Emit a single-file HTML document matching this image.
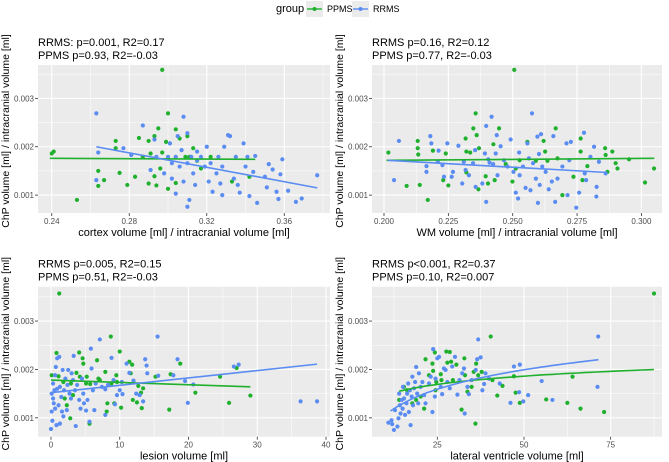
<!DOCTYPE html>
<html><head><meta charset="utf-8"><style>
body{margin:0;background:#fff;}
svg{display:block;font-family:"Liberation Sans",sans-serif;}
</style></head><body>
<svg id="chart" width="669" height="462"></svg>
<script>
// ===== Data =====
// Panel 1: cortex
const p1GreenX=[0.240,0.241,0.253,0.264,0.264,0.267,0.273,0.273,0.275,0.279,0.283,0.285,0.287,0.290,0.290,0.293,0.293,0.295,0.294,0.291,0.296,0.297,0.297,0.299,0.300,0.300,0.304,0.304,0.306,0.309,0.310,0.311,0.313,0.315,0.317,0.322,0.333,0.342];
const p1GreenY=[0.00186,0.00190,0.00090,0.00150,0.00119,0.00131,0.00212,0.00197,0.00146,0.00121,0.00138,0.00218,0.00179,0.00212,0.00124,0.00222,0.00139,0.00238,0.00120,0.00186,0.00155,0.00188,0.00359,0.00210,0.00113,0.00269,0.00236,0.00125,0.00217,0.00179,0.00222,0.00179,0.00197,0.00171,0.00155,0.00179,0.00128,0.00138];
const p1BlueX=[0.263,0.263,0.264,0.277,0.281,0.287,0.291,0.293,0.294,0.298,0.300,0.301,0.302,0.302,0.304,0.304,0.305,0.306,0.307,0.308,0.308,0.310,0.310,0.310,0.311,0.312,0.313,0.314,0.315,0.315,0.317,0.319,0.320,0.321,0.322,0.323,0.325,0.326,0.327,0.328,0.328,0.329,0.331,0.332,0.334,0.335,0.336,0.337,0.339,0.340,0.341,0.342,0.344,0.345,0.346,0.350,0.352,0.351,0.354,0.356,0.357,0.359,0.358,0.362,0.366,0.369,0.377];
const p1BlueY=[0.00269,0.00131,0.00188,0.00197,0.00183,0.00244,0.00152,0.00215,0.00179,0.00145,0.00179,0.00207,0.00166,0.00134,0.00179,0.00103,0.00222,0.00159,0.00193,0.00262,0.00128,0.00166,0.00076,0.00228,0.00090,0.00179,0.00145,0.00121,0.00190,0.00172,0.00179,0.00159,0.00200,0.00128,0.00166,0.00107,0.00145,0.00179,0.00124,0.00100,0.00159,0.00200,0.00224,0.00222,0.00134,0.00179,0.00121,0.00105,0.00207,0.00159,0.00179,0.00098,0.00148,0.00181,0.00084,0.00138,0.00164,0.00116,0.00153,0.00107,0.00092,0.00174,0.00143,0.00109,0.00086,0.00093,0.00141];
const p1BlueFitX=[0.263,0.377], p1BlueFitY=[0.00200,0.00115];
const p1GreenFitX=[0.239,0.345], p1GreenFitY=[0.00176,0.00174];

// Panel 2: WM
const p2GreenX=[0.2017,0.2088,0.2131,0.2131,0.2133,0.2139,0.217,0.219,0.223,0.224,0.225,0.2317,0.232,0.232,0.2335,0.2347,0.2356,0.236,0.2367,0.2369,0.2395,0.2404,0.2425,0.243,0.2447,0.2473,0.2499,0.2506,0.2512,0.2527,0.2557,0.259,0.262,0.2626,0.2635,0.2667,0.2674,0.2693,0.2736,0.2764,0.2764,0.2771,0.279,0.2859,0.2861,0.2868,0.2887,0.29,0.2907,0.2952,0.3014,0.3049];
const p2GreenY=[0.00188,0.00119,0.00212,0.00197,0.00184,0.00121,0.0009,0.00192,0.00131,0.00186,0.0012,0.00217,0.0019,0.00147,0.00188,0.00238,0.00269,0.00224,0.00112,0.00197,0.00139,0.00124,0.00205,0.00131,0.00238,0.00164,0.00128,0.00359,0.00155,0.00172,0.0021,0.00171,0.00212,0.0019,0.00171,0.00238,0.00176,0.001,0.00138,0.00217,0.0019,0.00131,0.0016,0.00197,0.00183,0.00148,0.0019,0.00166,0.00155,0.00174,0.00126,0.00155];
const p2BlueX=[0.2039,0.2058,0.2165,0.2165,0.218,0.2184,0.2209,0.2212,0.2227,0.2233,0.2246,0.2263,0.2268,0.2289,0.2304,0.231,0.2317,0.233,0.2346,0.2354,0.2356,0.2382,0.2392,0.2397,0.2397,0.2405,0.241,0.2418,0.2424,0.2434,0.2438,0.2441,0.2453,0.2466,0.248,0.2492,0.2503,0.2512,0.2521,0.2525,0.2527,0.254,0.255,0.2557,0.2563,0.2569,0.2575,0.2579,0.259,0.2596,0.2598,0.2602,0.2605,0.261,0.2615,0.2628,0.264,0.2652,0.2658,0.2665,0.2674,0.2693,0.2709,0.2713,0.272,0.2726,0.2747,0.2758,0.2777,0.278,0.2785,0.2802,0.2816,0.2825,0.2826,0.2835,0.2861];
const p2BlueY=[0.00131,0.00212,0.0016,0.00148,0.00222,0.00207,0.00169,0.00192,0.00162,0.00138,0.00207,0.00138,0.00148,0.00202,0.00124,0.00169,0.00152,0.00141,0.00166,0.00193,0.00117,0.00124,0.00186,0.00243,0.00086,0.00174,0.00167,0.00262,0.00164,0.00186,0.00224,0.00141,0.00201,0.00172,0.00159,0.00215,0.00148,0.00105,0.00093,0.00188,0.00141,0.00159,0.00115,0.00207,0.00176,0.0011,0.00269,0.00166,0.00134,0.00221,0.00084,0.00185,0.00121,0.00226,0.00159,0.00148,0.00112,0.00128,0.00222,0.00086,0.00134,0.00159,0.00207,0.001,0.00172,0.0021,0.00074,0.00105,0.00229,0.00145,0.00131,0.00179,0.002,0.00097,0.00117,0.00169,0.00145];
const p2BlueFitX=[0.2015,0.286], p2BlueFitY=[0.00172,0.00147];
const p2GreenFitX=[0.201,0.305], p2GreenFitY=[0.00172,0.00176];

// Panel 3: lesion
const p3GreenX=[0.1,0.8,1.2,1.1,1.8,2.0,2.3,2.8,2.9,3.2,3.7,4.1,4.2,4.6,4.7,5.1,5.2,5.6,5.7,6.7,6.9,7.1,7.9,8.1,8.2,8.7,8.8,9.2,9.5,9.6,10,10.2,11.4,11.6,11.8,11.9,12.5,12.7,13.1,13.2,13.4,15.2,17.2,17.4,18.8,21.0,24.6,25.9,27.0,29.0];
const p3GreenY=[0.00188,0.00234,0.00357,0.00186,0.00174,0.0014,0.00126,0.00099,0.00171,0.00147,0.00193,0.00235,0.00185,0.00223,0.00212,0.00171,0.00185,0.00088,0.0017,0.00219,0.00181,0.00178,0.00195,0.00113,0.0013,0.00268,0.00171,0.0013,0.00188,0.00174,0.00237,0.00121,0.00216,0.00192,0.0021,0.00137,0.00132,0.00166,0.00152,0.0012,0.00161,0.00185,0.00117,0.0019,0.00212,0.00152,0.00185,0.00131,0.00203,0.00146];
const p3BlueX=[0,0.1,0.1,0.2,0.3,0.3,0.4,0.5,0.6,0.6,0.7,0.8,0.9,0.9,1.1,1.2,1.3,1.3,1.5,1.6,1.7,1.8,1.9,2.1,2.3,2.4,2.5,2.7,2.9,3.0,3.2,3.3,3.5,3.6,3.8,4.1,4.3,4.5,4.7,4.8,5.1,5.3,5.6,5.8,5.9,6.1,6.3,6.5,7.1,7.4,7.9,7.9,8.3,8.8,9.1,9.3,9.6,10,10.3,10.4,11,11.4,12,12.4,12.9,13.4,13.7,13.9,14,15.5,15.6,17.8,18.4,19.5,19.9,20.7,26.6,27.3,36.3,38.7];
const p3BlueY=[0.00077,0.00113,0.0015,0.00094,0.0014,0.00171,0.0013,0.00157,0.00119,0.00188,0.00205,0.00085,0.00223,0.0016,0.00126,0.00226,0.00088,0.00164,0.00143,0.00113,0.00199,0.00103,0.00157,0.00181,0.00116,0.00168,0.00199,0.0015,0.0014,0.00192,0.00178,0.00228,0.00157,0.00083,0.00168,0.00137,0.00119,0.00181,0.0015,0.0013,0.00115,0.00137,0.00092,0.00243,0.00202,0.00157,0.00116,0.00171,0.00262,0.00164,0.00159,0.00106,0.00168,0.00224,0.00178,0.00128,0.00147,0.00157,0.00174,0.00149,0.00212,0.00193,0.00177,0.0015,0.00147,0.00134,0.00221,0.00208,0.00192,0.00268,0.00187,0.00188,0.00221,0.00176,0.00131,0.00169,0.00206,0.0021,0.00134,0.00134];
const p3BlueFitX=[0,38.7], p3BlueFitY=[0.00152,0.00211];
const p3GreenFitX=[0,29], p3GreenFitY=[0.00178,0.00164];

// Panel 4: lateral ventricle
const p4GreenX=[14,15.4,16.3,17.8,18.9,20.2,21.2,21.6,22.6,23.6,23.8,24.3,24.5,24.7,26,26.2,27.6,27.9,28.6,29,29.5,30.5,32,32.8,33,33.7,34.9,35.5,36,36.2,36.8,37.8,40.4,40.9,42.3,43.8,47.1,47.6,48.8,56.4,62.5,64,66.3,73.1,87.5];
const p4GreenY=[0.00137,0.00164,0.00157,0.0013,0.00137,0.00144,0.00119,0.00221,0.00188,0.00212,0.00197,0.00235,0.00157,0.00174,0.0019,0.00178,0.00237,0.00214,0.00236,0.00216,0.00178,0.0021,0.00117,0.00223,0.00188,0.00154,0.00164,0.00195,0.00088,0.00212,0.00188,0.00195,0.00268,0.00178,0.00146,0.00166,0.00186,0.00152,0.00131,0.00138,0.00131,0.00185,0.00119,0.00112,0.00357];
const p4BlueX=[10.9,11.8,12,12.5,12.8,13.5,13.8,14,14.2,14.4,14.7,15,15.1,15.4,15.7,16.1,16.3,16.6,16.8,17.1,17.3,17.6,17.8,18,18.3,18.6,18.9,19.2,19.5,19.7,20.2,20.7,21.2,21.6,22.6,23.1,23.6,23.8,24.3,24.5,25,25.5,26,26.4,26.9,27.4,27.9,28.6,29.3,30.1,30.8,31.4,32.2,32.7,32.9,33.7,34.1,34.9,36.1,36.5,36.8,37.5,38,38.5,38.9,39.9,43,46.1,47.1,48.6,48.8,49.8,51.2,55.1,58.2,71.2,71.4];
const p4BlueY=[0.0009,0.00095,0.00087,0.00075,0.00116,0.00082,0.00099,0.0015,0.00126,0.00109,0.00137,0.00119,0.00164,0.0014,0.00106,0.0013,0.0015,0.00171,0.00112,0.00157,0.00085,0.00144,0.00185,0.00126,0.00161,0.00174,0.00205,0.0015,0.0013,0.00192,0.00164,0.00174,0.00147,0.0013,0.00171,0.00185,0.00112,0.00242,0.00144,0.00181,0.00223,0.00226,0.00164,0.00149,0.00202,0.00199,0.00174,0.00161,0.00206,0.00226,0.00148,0.00178,0.00192,0.00202,0.00109,0.00164,0.00149,0.00178,0.00199,0.00221,0.00262,0.00225,0.00157,0.0017,0.00192,0.00181,0.00171,0.00131,0.00206,0.00153,0.0021,0.00134,0.00147,0.00176,0.00137,0.00164,0.00268];
// log fits: y = a + b*ln(x)
const p4BlueFit=[-0.000276,0.00058], p4BlueFitRange=[11.5,71.5];
const p4GreenFit=[0.000903,0.000245], p4GreenFitRange=[14,87.5];

const xTicks1=[0.24,0.28,0.32,0.36], xTickLabels1=["0.24","0.28","0.32","0.36"];
const xTicks2=[0.200,0.225,0.250,0.275,0.300], xTickLabels2=["0.200","0.225","0.250","0.275","0.300"];
const xTicks3=[0,10,20,30,40], xTickLabels3=["0","10","20","30","40"];
const xTicks4=[25,50,75], xTickLabels4=["25","50","75"];
const yTicks=[0.001,0.002,0.003], yTickLabels=["0.001","0.002","0.003"];

// ===== Rendering =====
const NS="http://www.w3.org/2000/svg";
const svg=document.getElementById('chart');
const GREEN="#1fb02d", BLUE="#5a8cf2";
function el(tag,attrs,parent){const e=document.createElementNS(NS,tag);for(const k in attrs)e.setAttribute(k,attrs[k]);(parent||svg).appendChild(e);return e;}
function txt(s,attrs,parent){const t=el('text',attrs,parent);t.textContent=s;return t;}

function panel(cfg){
  const g=el('g',{});
  
  
  const L=cfg.px[0],R=cfg.px[1],T=cfg.py[0],B=cfg.py[1];
  const sx=v=>L+(v-cfg.xd[0])/(cfg.xd[1]-cfg.xd[0])*(R-L);
  const sy=v=>B-(v-cfg.yd[0])/(cfg.yd[1]-cfg.yd[0])*(B-T);
  const bg=el('rect',{x:L,y:T,width:R-L,height:B-T,fill:"#ebebeb"},g);
  
  
  const xt=cfg.xt;const step=xt[1]-xt[0];
  for(let v=xt[0]-step/2;v<=cfg.xd[1];v+=step){if(v>=cfg.xd[0])el('line',{x1:sx(v),x2:sx(v),y1:T,y2:B,stroke:"#fff","stroke-width":0.5},g);}
  for(let v=0.0005;v<=cfg.yd[1];v+=0.001){if(v>=cfg.yd[0])el('line',{x1:L,x2:R,y1:sy(v),y2:sy(v),stroke:"#fff","stroke-width":0.5},g);}
  xt.forEach((v,i)=>{
    el('line',{x1:sx(v),x2:sx(v),y1:T,y2:B,stroke:"#fff","stroke-width":1.1},g);
    el('line',{x1:sx(v),x2:sx(v),y1:B,y2:B+3,stroke:"#333","stroke-width":0.8},g);
    const t=txt(cfg.xl[i],{x:sx(v),y:B+11,"font-size":8,fill:"#4d4d4d","text-anchor":"middle"},g);
    
    
  });
  yTicks.forEach((v,i)=>{
    el('line',{x1:L,x2:R,y1:sy(v),y2:sy(v),stroke:"#fff","stroke-width":1.1},g);
    el('line',{x1:L-3,x2:L,y1:sy(v),y2:sy(v),stroke:"#333","stroke-width":0.8},g);
    const t=txt(yTickLabels[i],{x:L-4,y:sy(v)+3,"font-size":8,fill:"#4d4d4d","text-anchor":"end"},g);
    
    
  });
  [[cfg.gx,cfg.gy,GREEN,'ppms-point'],[cfg.bx,cfg.by,BLUE,'rrms-point']].forEach(s=>{
    s[0].forEach((x,i)=>{
      const c=el('circle',{cx:sx(x),cy:sy(s[1][i]),r:2.1,fill:s[2]},g);
      
      
    });
  });
  cfg.fits.forEach(f=>{
    let d="";
    if(f.log){for(let k=0;k<=40;k++){const x=f.r[0]+(f.r[1]-f.r[0])*k/40;const y=f.c[0]+f.c[1]*Math.log(x);d+=(k?"L":"M")+sx(x).toFixed(1)+","+sy(y).toFixed(1);}}
    else d="M"+sx(f.x[0])+","+sy(f.y[0])+"L"+sx(f.x[1])+","+sy(f.y[1]);
    const p=el('path',{d:d,stroke:f.col,"stroke-width":1.6,fill:"none"},g);
    
    
  });
  const t1=txt(cfg.t1,{x:L,y:T-19,"font-size":11,fill:"#000"},g);
  
  
  const t2=txt(cfg.t2,{x:L,y:T-6,"font-size":11,fill:"#000"},g);
  
  
  const xa=txt(cfg.xtitle,{x:(L+R)/2,y:B+23,"font-size":11,fill:"#000","text-anchor":"middle"},g);
  
  
  const cy=(T+B)/2-8;
  const ya=txt("ChP volume [ml] / intracranial volume [ml]",{x:0,y:0,"font-size":10.5,fill:"#000","text-anchor":"middle",transform:`translate(${L-29},${cy}) rotate(-90)`},g);
  
  
}

const topY=[65,213], botY=[286.7,436.7];
panel({name:'cortex-panel',px:[38,330],py:topY,xd:[0.2329,0.3836],yd:[0.00063,0.00369],xt:xTicks1,xl:xTickLabels1,
  gx:p1GreenX,gy:p1GreenY,bx:p1BlueX,by:p1BlueY,
  fits:[{x:p1GreenFitX,y:p1GreenFitY,col:GREEN,name:'ppms-fit-line'},{x:p1BlueFitX,y:p1BlueFitY,col:BLUE,name:'rrms-fit-line'}],
  t1:"RRMS: p=0.001, R2=0.17",t2:"PPMS p=0.93, R2=-0.03",xtitle:"cortex volume [ml] / intracranial volume [ml]"});
panel({name:'wm-panel',px:[372,662],py:topY,xd:[0.19534,0.308],yd:[0.00063,0.00369],xt:xTicks2,xl:xTickLabels2,
  gx:p2GreenX,gy:p2GreenY,bx:p2BlueX,by:p2BlueY,
  fits:[{x:p2GreenFitX,y:p2GreenFitY,col:GREEN,name:'ppms-fit-line'},{x:p2BlueFitX,y:p2BlueFitY,col:BLUE,name:'rrms-fit-line'}],
  t1:"RRMS p=0.16, R2=0.12",t2:"PPMS p=0.77, R2=-0.03",xtitle:"WM volume [ml] / intracranial volume [ml]"});
panel({name:'lesion-panel',px:[38,330],py:botY,xd:[-1.89,40.58],yd:[0.00061,0.00371],xt:xTicks3,xl:xTickLabels3,
  gx:p3GreenX,gy:p3GreenY,bx:p3BlueX,by:p3BlueY,
  fits:[{x:p3GreenFitX,y:p3GreenFitY,col:GREEN,name:'ppms-fit-line'},{x:p3BlueFitX,y:p3BlueFitY,col:BLUE,name:'rrms-fit-line'}],
  t1:"RRMS p=0.005, R2=0.15",t2:"PPMS p=0.51, R2=-0.03",xtitle:"lesion volume [ml]"});
panel({name:'ventricle-panel',px:[372,662],py:botY,xd:[6.17,89.8],yd:[0.00061,0.00371],xt:xTicks4,xl:xTickLabels4,
  gx:p4GreenX,gy:p4GreenY,bx:p4BlueX,by:p4BlueY,
  fits:[{log:true,c:p4GreenFit,r:p4GreenFitRange,col:GREEN,name:'ppms-fit-line'},{log:true,c:p4BlueFit,r:p4BlueFitRange,col:BLUE,name:'rrms-fit-line'}],
  t1:"RRMS p<0.001, R2=0.37",t2:"PPMS p=0.10, R2=0.007",xtitle:"lateral ventricle volume [ml]"});

const lg=el('g',{});


const lt=txt("group",{x:276,y:12,"font-size":11,fill:"#000"},lg);


[[306,GREEN,"PPMS",'legend-entry-ppms'],[352,BLUE,"RRMS",'legend-entry-rrms']].forEach(e=>{
  const gg=el('g',{},lg);
  
  
  el('rect',{x:e[0],y:1,width:17,height:16,fill:"#ebebeb"},gg);
  el('line',{x1:e[0]+1,x2:e[0]+16,y1:9,y2:9,stroke:e[1],"stroke-width":1.4},gg);
  el('circle',{cx:e[0]+8.5,cy:9,r:2,fill:e[1]},gg);
  txt(e[2],{x:e[0]+21,y:12,"font-size":9,fill:"#000"},gg);
});
</script>
</body></html>
